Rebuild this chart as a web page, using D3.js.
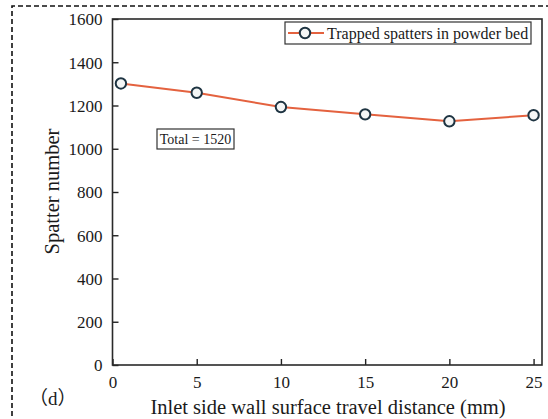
<!DOCTYPE html>
<html><head><meta charset="utf-8">
<script src="https://cdn.jsdelivr.net/npm/d3@7"></script>
<style>body{margin:0;background:#fff}svg{display:block}text{font-family:"Liberation Serif","Times New Roman",serif;fill:#1a1a1a}</style>
</head><body>
<script>
const distances = [0.5, 5, 10, 15, 20, 25];
const spatters = [1302, 1259, 1193, 1159, 1127, 1155];
const xTicks = [0, 5, 10, 15, 20, 25];
const yTicks = [0, 200, 400, 600, 800, 1000, 1200, 1400, 1600];
const seriesName = "Trapped spatters in powder bed";
const totalLabel = "Total = 1520";
const xTitle = "Inlet side wall surface travel distance (mm)";
const yTitle = "Spatter number";

const W = 548, H = 419;
const m = {left: 112.5, top: 19, right: 6, bottom: 54};
const SERIF = '"Liberation Serif","Times New Roman",serif';
const svg = d3.select("body").append("svg").attr("width", W).attr("height", H);

// dashed panel border
svg.append("path").attr("d", `M12,${H+5} L12,6 L${W+5},6`)
  .attr("fill","none").attr("stroke","#111").attr("stroke-width",1.6).attr("stroke-dasharray","5,3");

const x = d3.scaleLinear().domain([0, 25.5]).range([m.left, W - m.right]);
const y = d3.scaleLinear().domain([0, 1600]).range([H - m.bottom, m.top]);

const gx = svg.append("g").attr("transform", `translate(0,${y(0)})`)
  .call(d3.axisBottom(x).tickValues(xTicks).tickSize(-6).tickPadding(11).tickFormat(d3.format("d")));
const gy = svg.append("g").attr("transform", `translate(${x(0)},0)`)
  .call(d3.axisLeft(y).tickValues(yTicks).tickSize(-6).tickPadding(10).tickFormat(d3.format("d")));
[gx, gy].forEach(g => {
  g.attr("font-family", SERIF).attr("font-size", 17);
  g.select(".domain").remove();
  g.selectAll("line").attr("stroke","#222").attr("stroke-width",1.4);
  g.selectAll("text").attr("font-family", SERIF).attr("font-size", 17).attr("fill","#1a1a1a");
});
gy.selectAll("text").attr("dy","0.34em");

// frame
svg.append("rect").attr("x", x(0)).attr("y", y(1600)).attr("width", x(25.5)-x(0)).attr("height", y(0)-y(1600))
  .attr("fill","none").attr("stroke","#2a2a2a").attr("stroke-width",1.6);

// line
const line = d3.line().x((d,i)=>x(distances[i])).y(d=>y(d));
svg.append("path").datum(spatters).attr("d", line).attr("fill","none").attr("stroke","#e4623f").attr("stroke-width",2);
svg.selectAll("circle.pt").data(spatters).join("circle").attr("class","pt")
  .attr("cx",(d,i)=>x(distances[i])).attr("cy",d=>y(d)).attr("r",5.2)
  .attr("fill","#f4f6f6").attr("stroke","#1e3442").attr("stroke-width",2);

// legend
const lg = svg.append("g");
lg.append("rect").attr("x",285).attr("y",22).attr("width",246).attr("height",22).attr("fill","#fff").attr("stroke","#333").attr("stroke-width",1.2);
lg.append("line").attr("x1",288).attr("x2",324).attr("y1",33).attr("y2",33).attr("stroke","#e4623f").attr("stroke-width",2);
lg.append("circle").attr("cx",305).attr("cy",33).attr("r",5.2).attr("fill","#f4f6f6").attr("stroke","#1e3442").attr("stroke-width",2);
lg.append("text").attr("x",327).attr("y",38.5).style("font-size","16px").text(seriesName);

// total box
const tg = svg.append("g");
tg.append("rect").attr("x",157).attr("y",129).attr("width",77).attr("height",20).attr("fill","#fff").attr("stroke","#333").attr("stroke-width",1.2);
tg.append("text").attr("x",195.5).attr("y",144).attr("text-anchor","middle").style("font-size","14px").text(totalLabel);

// titles
svg.append("text").attr("x",328).attr("y",414).attr("text-anchor","middle").style("font-size","20.5px").text(xTitle);
svg.append("text").attr("transform","translate(59,191.5) rotate(-90)").attr("text-anchor","middle").style("font-size","20.5px").text(yTitle);
const pl = svg.append("text").attr("x",29).attr("y",405).style("font-size","19px");
pl.append("tspan").style("font-family",'"Noto Sans CJK SC",sans-serif').text("（");
pl.append("tspan").style("font-family",SERIF).text("d");
pl.append("tspan").style("font-family",'"Noto Sans CJK SC",sans-serif').text("）");
</script>
</body></html>
